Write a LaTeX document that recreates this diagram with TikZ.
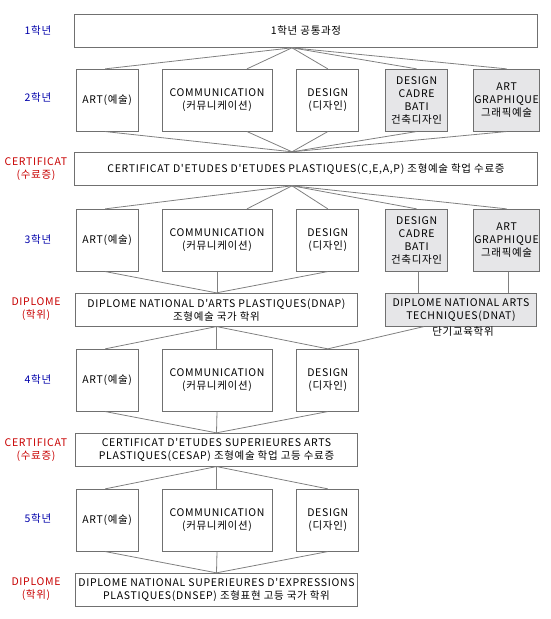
\documentclass[tikz,border=0pt]{standalone}
\usepackage{fontspec}
\newfontfamily\kr{Noto Sans CJK KR}[LetterSpace=6.5]
\definecolor{bordergray}{RGB}{112,112,112}
\definecolor{linegray}{RGB}{128,128,128}
\definecolor{fillgray}{RGB}{230,230,232}
\definecolor{lblue}{RGB}{0,0,170}
\definecolor{lred}{RGB}{200,0,0}
\tikzset{
  box/.style={draw=bordergray, line width=1pt, fill=white, inner sep=1pt, align=center,
    font=\kr\fontsize{10.5}{13}\selectfont},
  graybox/.style={box, fill=fillgray},
  wide/.style={minimum width=463pt, minimum height=33pt},
  small/.style={minimum width=62pt, minimum height=61.7pt},
  comm/.style={minimum width=110pt, minimum height=61.7pt},
  half/.style={minimum width=282.3pt, minimum height=32.7pt},
  dnatbox/.style={minimum width=151pt, minimum height=32.7pt},
  conn/.style={draw=linegray, line width=0.8pt},
  yearlbl/.style={text=lblue, font=\kr\fontsize{10.5}{13}\selectfont, align=center},
  certlbl/.style={text=lred, font=\kr\fontsize{10.5}{13}\selectfont, align=center},
  plain/.style={font=\kr\fontsize{10.5}{13}\selectfont}
}
\begin{document}
\begin{tikzpicture}[x=1pt,y=-1pt]
\useasboundingbox (0,0) rectangle (550,619);
% Row 1
\node[box,wide] (r1) at (306,30.8) {1학년 공통과정};
% Row 2
\node[box,small] (a2) at (107.2,100.2) {ART(예술)};
\node[box,comm] (c2) at (217,100.2) {COMMUNICATION\\(커뮤니케이션)};
\node[box,small] (d2) at (327.8,100.2) {DESIGN\\(디자인)};
\node[graybox,small] (g2) at (416.6,100.2) {DESIGN\\CADRE\\BATI\\건축디자인};
\node[graybox,small] (h2) at (506.6,100.2) {ART\\GRAPHIQUE\\그래픽예술};
% Certificat 1
\node[box,wide] (k1) at (306,168.8) {CERTIFICAT D'ETUDES D'ETUDES PLASTIQUES(C,E,A,P) 조형예술 학업 수료증};
% Row 3
\node[box,small] (a3) at (107.2,240.2) {ART(예술)};
\node[box,comm] (c3) at (217,240.2) {COMMUNICATION\\(커뮤니케이션)};
\node[box,small] (d3) at (327.8,240.2) {DESIGN\\(디자인)};
\node[graybox,small] (g3) at (416.6,240.2) {DESIGN\\CADRE\\BATI\\건축디자인};
\node[graybox,small] (h3) at (506.6,240.2) {ART\\GRAPHIQUE\\그래픽예술};
% Diplome 1
\node[box,half] (dnap) at (216.5,309.7) {DIPLOME NATIONAL D'ARTS PLASTIQUES(DNAP)\\조형예술 국가 학위};
\node[graybox,dnatbox] (dnat) at (461,309.7) {DIPLOME NATIONAL ARTS\\TECHNIQUES(DNAT)};
\node[plain, anchor=north, inner sep=0pt] (dnatk) at (463,327) {단기교육학위};
% Row 4
\node[box,small] (a4) at (107.2,380.2) {ART(예술)};
\node[box,comm] (c4) at (217,380.2) {COMMUNICATION\\(커뮤니케이션)};
\node[box,small] (d4) at (327.8,380.2) {DESIGN\\(디자인)};
% Certificat 2
\node[box,half] (cesap) at (216.5,449.7) {CERTIFICAT D'ETUDES SUPERIEURES ARTS\\PLASTIQUES(CESAP) 조형예술 학업 고등 수료증};
% Row 5
\node[box,small] (a5) at (107.2,520.2) {ART(예술)};
\node[box,comm] (c5) at (217,520.2) {COMMUNICATION\\(커뮤니케이션)};
\node[box,small] (d5) at (327.8,520.2) {DESIGN\\(디자인)};
% Diplome 2
\node[box,half] (dnsep) at (216.5,589.7) {DIPLOME NATIONAL SUPERIEURES D'EXPRESSIONS\\PLASTIQUES(DNSEP) 조형표현 고등 국가 학위};

% Left labels
\node[yearlbl] (y1) at (38,31) {1학년};
\node[yearlbl] (y2) at (38,98) {2학년};
\node[certlbl] (l1) at (36,169.5) {CERTIFICAT\\(수료증)};
\node[yearlbl] (y3) at (38,240) {3학년};
\node[certlbl] (l2) at (36,309) {DIPLOME\\(학위)};
\node[yearlbl] (y4) at (38,380) {4학년};
\node[certlbl] (l3) at (36,450) {CERTIFICAT\\(수료증)};
\node[yearlbl] (y5) at (38,519) {5학년};
\node[certlbl] (l4) at (36,589) {DIPLOME\\(학위)};

% Connectors
\coordinate (p1) at ([xshift=218pt]r1.south west);
\coordinate (p2) at ([xshift=218pt]k1.north west);
\coordinate (p3) at ([xshift=218pt]k1.south west);
\draw[conn] (p1) -- ([xshift=-2pt]a2.north);
\draw[conn] (p1) -- ([xshift=30pt]c2.north);
\draw[conn] (p1) -- (d2.north);
\draw[conn] (p1) -- (g2.north);
\draw[conn] (p1) -- (h2.north);
\draw[conn] (p2) -- ([xshift=-2pt]a2.south);
\draw[conn] (p2) -- ([xshift=30pt]c2.south);
\draw[conn] (p2) -- (d2.south);
\draw[conn] (p2) -- (g2.south);
\draw[conn] (p2) -- (h2.south);
% cert1 -> row3
\draw[conn] (p3) -- ([xshift=-2pt]a3.north);
\draw[conn] (p3) -- ([xshift=30pt]c3.north);
\draw[conn] (p3) -- (d3.north);
\draw[conn] (p3) -- (g3.north);
\draw[conn] (p3) -- (h3.north);
% row3 -> diplomes
\draw[conn] ([xshift=-2pt]a3.south) -- (dnap.north);
\draw[conn] (c3.south) -- (c3.south |- dnap.north);
\draw[conn] (d3.south) -- (dnap.north);
\draw[conn] ([xshift=2pt]g3.south) -- ([xshift=2pt]g3.south |- dnat.north);
\draw[conn] ([xshift=2pt]h3.south) -- ([xshift=2pt]h3.south |- dnat.north);
% diplomes -> row4
\draw[conn] (dnap.south) -- ([xshift=-2pt]a4.north);
\draw[conn] (dnap.south) -- (dnap.south |- c4.north);
\draw[conn] (dnap.south) -- (d4.north);
\draw[conn] ([xshift=-37pt]dnat.south) -- (d4.north);
% row4 -> cesap
\draw[conn] ([xshift=-2pt]a4.south) -- (cesap.north);
\draw[conn] (c4.south |- a4.south) -- (cesap.north);
\draw[conn] (d4.south) -- (cesap.north);
% cesap -> row5
\draw[conn] (cesap.south) -- ([xshift=-2pt]a5.north);
\draw[conn] (cesap.south) -- (cesap.south |- c5.north);
\draw[conn] (cesap.south) -- (d5.north);
% row5 -> dnsep
\draw[conn] ([xshift=-2pt]a5.south) -- (dnsep.north);
\draw[conn] (c5.south) -- (dnsep.north);
\draw[conn] (d5.south) -- (dnsep.north);
\end{tikzpicture}
\end{document}
